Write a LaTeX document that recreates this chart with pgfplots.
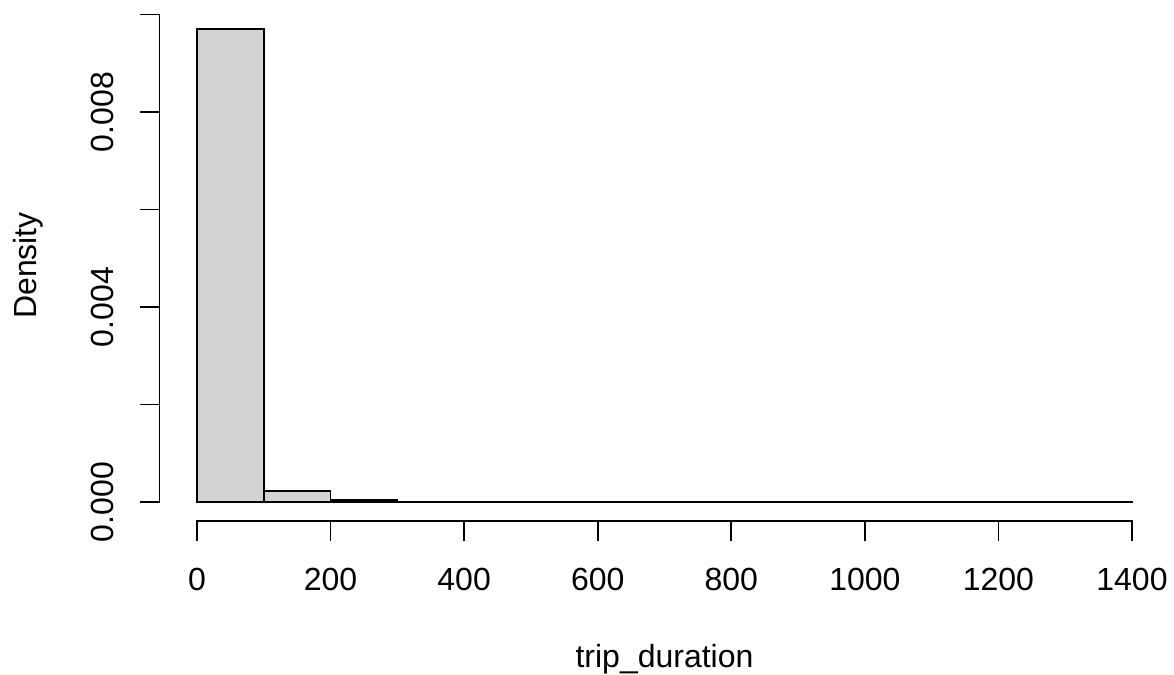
\documentclass[border=0pt]{standalone}
\usepackage{pgfplots}
\pgfplotsset{compat=1.18}
\usepackage{fontspec}
\setmainfont{Liberation Sans}
\definecolor{rgray}{RGB}{211,211,211}
\begin{document}
\fontsize{16}{19}\selectfont
\begin{tikzpicture}
\path[use as bounding box] (-79.8pt,-77pt) rectangle (507.2pt,260.5pt);
\begin{axis}[
  at={(0pt,0pt)}, anchor=south west,
  scale only axis,
  width=504.9pt, height=255.5pt,
  xmin=-56, xmax=1456,
  ymin=-0.000388, ymax=0.010091,
  scaled y ticks=false,
  axis x line*=bottom, axis y line*=left,
  axis line style={draw=none},
  tick align=outside,
  major tick length=10pt,
  tick style={black, line width=0.9pt},
  xtick={0,200,400,600,800,1000,1200,1400},
  xticklabels={0,200,400,600,800,1000,1200,1400},
  ytick={0,0.002,0.004,0.006,0.008,0.010},
  yticklabels={0.000,,0.004,,0.008,},
  xticklabel style={anchor=base, yshift=-24.5pt, font=\fontsize{16}{19}\selectfont},
  yticklabel shift=13pt,
  yticklabel style={rotate=90, anchor=base, font=\fontsize{16}{19}\selectfont},
  /pgf/number format/assume math mode=true,
  clip=false,
]
\addplot[ybar interval, fill=rgray, draw=black, line width=0.8pt] coordinates {
  (0,0.009703) (100,0.000225) (200,0.00004) (300,0.000008) (400,0.000004)
  (500,0.000003) (600,0.000002) (700,0.000002) (800,0.000001) (900,0.000001)
  (1000,0.000001) (1100,0.000001) (1200,0.000001) (1300,0.000001) (1400,0.000001)
};
\draw[line width=0.9pt, line cap=rect] (axis cs:0,-0.000388) -- (axis cs:1400,-0.000388);
\draw[line width=0.9pt, line cap=rect] (axis cs:-56,0) -- (axis cs:-56,0.010);
\end{axis}
\node[rotate=90, anchor=base] at (-61.3pt,127.75pt) {Density};
\node[anchor=base] at (252.45pt,-73pt) {trip\_duration};
\end{tikzpicture}
\end{document}
